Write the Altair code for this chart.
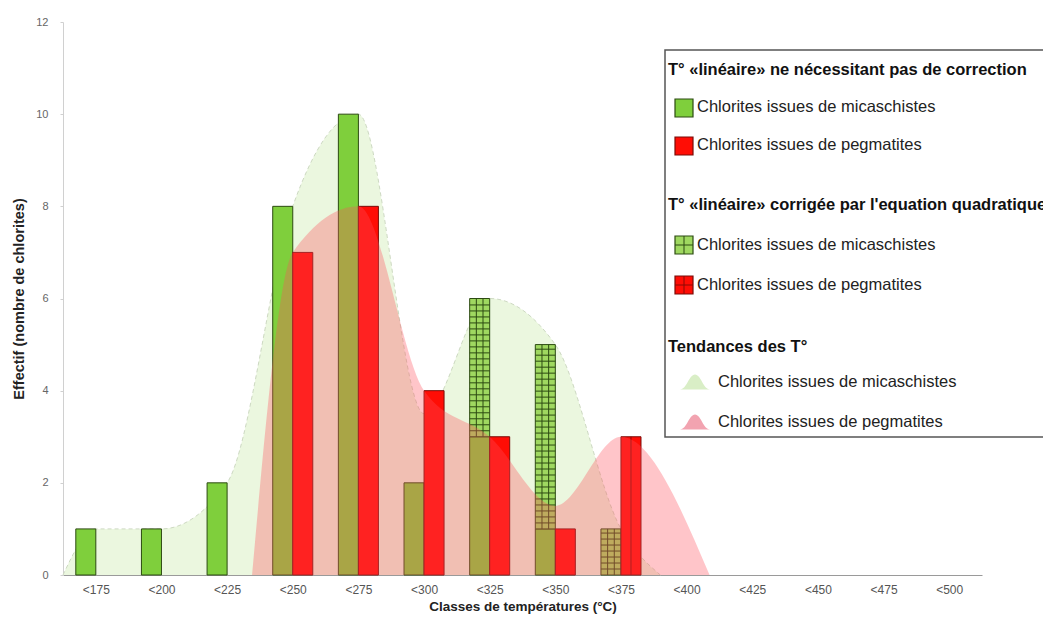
import json
import altair as alt
import pandas as pd

# ---------------- data ----------------
classes = ["<175", "<200", "<225", "<250", "<275", "<300", "<325",
           "<350", "<375", "<400", "<425", "<450", "<475", "<500"]
mica_lin = [1, 1, 2, 8, 10, 2, 3, 1, 0, 0, 0, 0, 0, 0]
mica_corr = [0, 0, 0, 0, 0, 0, 3, 4, 1, 0, 0, 0, 0, 0]
peg_lin = [0, 0, 0, 7, 8, 4, 3, 1, 0, 0, 0, 0, 0, 0]
peg_corr = [0, 0, 0, 0, 0, 0, 0, 0, 3, 0, 0, 0, 0, 0]

trend_mica_x = [-0.5, 0, 1, 2, 3, 4, 5, 6, 7, 8, 8.6]
trend_mica_y = [0, 1, 1, 2, 8, 10, 3.5, 6, 5, 1, 0]
trend_peg_x = [2.38, 3, 4, 5, 6, 7, 8, 9.35]
trend_peg_y = [0, 7, 8, 4, 3, 1.5, 3, 0]

y_ticks = [0, 2, 4, 6, 8, 10, 12]
legend_headers = ["T° «linéaire» ne nécessitant pas de correction",
                  "T° «linéaire» corrigée par l'equation quadratique",
                  "Tendances des T°"]
legend_items = ["Chlorites issues de micaschistes", "Chlorites issues de pegmatites"]

# ---------------- styling constants ----------------
FONT = "Liberation Sans"
BW = 0.305          # bar width in class units
HSTEP = 0.13        # hatch spacing (count units)
GREEN = "#7fcf3c"
GREEN_H = "#9fd860"
GREEN_S = "#2c4a12"
RED = "#ff0d05"
RED_S = "#7a0c08"
RED_H = "#8a0a06"
PINK = "#ff505a"
LGREEN = "#e9f6dc"
W, H = 919, 553

# ---------------- build tables ----------------
rows = []
for i, c in enumerate(classes):
    if mica_lin[i] > 0:
        rows.append(dict(k="ml", x=i - BW, x2=i, y=0, y2=mica_lin[i]))
    if mica_corr[i] > 0:
        rows.append(dict(k="mc", x=i - BW, x2=i, y=mica_lin[i], y2=mica_lin[i] + mica_corr[i]))
    if peg_lin[i] > 0:
        rows.append(dict(k="pl", x=i, x2=i + BW, y=0, y2=peg_lin[i]))
    if peg_corr[i] > 0:
        rows.append(dict(k="pc", x=i, x2=i + BW, y=peg_lin[i], y2=peg_lin[i] + peg_corr[i]))
bars = pd.DataFrame(rows)

hatch = []
for r in rows:
    if r["k"] == "mc":
        yy = r["y"] + HSTEP
        while yy < r["y2"] - 0.02:
            hatch.append(dict(k="g", x=r["x"], x2=r["x2"], y=yy, y2=yy))
            yy += HSTEP
        for f in (1 / 3, 2 / 3):
            xx = r["x"] + f * (r["x2"] - r["x"])
            hatch.append(dict(k="g", x=xx, x2=xx, y=r["y"], y2=r["y2"]))
    if r["k"] == "pc":
        xx = (r["x"] + r["x2"]) / 2
        hatch.append(dict(k="r", x=xx, x2=xx, y=r["y"], y2=r["y2"]))
hatch = pd.DataFrame(hatch)

tm = pd.DataFrame({"x": trend_mica_x, "y": trend_mica_y})
tp = pd.DataFrame({"x": trend_peg_x, "y": trend_peg_y})

label_expr = json.dumps(classes) + "[datum.value]"
XS = alt.Scale(domain=[-0.5, 13.5], nice=False, zero=False)
YS = alt.Scale(domain=[0, 12], nice=False)
X = alt.X("x:Q", scale=XS, title="Classes de températures (°C)",
          axis=alt.Axis(values=list(range(len(classes))), labelExpr=label_expr,
                        grid=False, ticks=False, domainColor="#9a9a9a",
                        labelColor="#555", labelFontSize=12, labelPadding=9,
                        titleFontSize=13.5, titleFontWeight="bold", titleColor="#222",
                        titlePadding=4))
Y = alt.Y("y:Q", scale=YS, title="Effectif (nombre de chlorites)",
          axis=alt.Axis(values=y_ticks, grid=False, tickSize=3, tickColor="#d0d0d0",
                        domainColor="#d0d0d0", labelColor="#666", labelFontSize=11,
                        labelPadding=12, titleFontSize=14.5, titleFontWeight="bold",
                        titleColor="#222", titlePadding=9))

area_m = alt.Chart(tm).mark_area(interpolate="monotone", color=LGREEN, opacity=0.9).encode(x=X, y=Y)
line_m = alt.Chart(tm).mark_line(interpolate="monotone", color="#cdd9c2", strokeDash=[4, 3],
                                 strokeWidth=1).encode(x=X, y=Y)

fill_scale = alt.Scale(domain=["ml", "mc", "pl", "pc"], range=[GREEN, GREEN_H, RED, RED])
stroke_scale = alt.Scale(domain=["ml", "mc", "pl", "pc"], range=[GREEN_S, GREEN_S, RED_S, RED_S])
bar_layer = alt.Chart(bars).mark_rect(strokeWidth=1).encode(
    x=X, x2="x2:Q", y=Y, y2="y2:Q",
    fill=alt.Fill("k:N", scale=fill_scale, legend=None),
    stroke=alt.Stroke("k:N", scale=stroke_scale, legend=None))
hatch_layer = alt.Chart(hatch).mark_rule(strokeWidth=1).encode(
    x=X, x2="x2:Q", y=Y, y2="y2:Q",
    color=alt.Color("k:N", scale=alt.Scale(domain=["g", "r"], range=[GREEN_S, RED_H]), legend=None))
area_p = alt.Chart(tp).mark_area(interpolate="monotone", color=PINK, opacity=0.33).encode(x=X, y=Y)

one = pd.DataFrame({"a": [0]})
V = alt.value
# cover the top and right edges of the plot area
frame_hide = [
    alt.Chart(one).mark_rule(color="white", strokeWidth=3).encode(x=V(1), x2=V(W + 2), y=V(0), y2=V(0)),
    alt.Chart(one).mark_rule(color="white", strokeWidth=3).encode(x=V(W), x2=V(W), y=V(-1), y2=V(H - 1)),
]

# ---------------- manual legend (pixel positions, no scales) ----------------
leg = []
leg.append(alt.Chart(one).mark_rect(fill="white", stroke="#555", strokeWidth=1.5).encode(
    x=V(602), x2=V(1010), y=V(28), y2=V(415)))
for t, py in zip(legend_headers, [48, 183, 325]):
    leg.append(alt.Chart(one).mark_text(align="left", baseline="middle", fontSize=16.5,
                                        fontWeight="bold", font=FONT, color="#111", text=t)
               .encode(x=V(605), y=V(py)))
for t, px, py in zip(legend_items * 3, [634, 634, 634, 634, 655, 655],
                     [85, 123, 223, 263, 360, 400]):
    leg.append(alt.Chart(one).mark_text(align="left", baseline="middle", fontSize=16.5,
                                        font=FONT, color="#222", text=t)
               .encode(x=V(px), y=V(py)))
for y0, f, s in zip([77, 115, 214, 254], [GREEN, RED, GREEN_H, RED],
                    [GREEN_S, RED_S, GREEN_S, RED_S]):
    leg.append(alt.Chart(one).mark_rect(fill=f, stroke=s, strokeWidth=1.2).encode(
        x=V(612), x2=V(630), y=V(y0), y2=V(y0 + 18)))
for x0, x1, y0, y1, c in [(612, 630, 223, 223, GREEN_S), (621, 621, 214, 232, GREEN_S),
                          (612, 630, 263, 263, RED_H), (621, 621, 254, 272, RED_H)]:
    leg.append(alt.Chart(one).mark_rule(color=c, strokeWidth=1).encode(
        x=V(x0), x2=V(x1), y=V(y0), y2=V(y1)))
mound = "M-1,0.5 C-0.55,0.5 -0.4,-0.5 0,-0.5 C0.4,-0.5 0.55,0.5 1,0.5 Z"
for py, c in zip([360, 400], ["#d9eec6", "#f2a3b0"]):
    leg.append(alt.Chart(one).mark_point(shape=mound, filled=True, size=900, opacity=1,
                                         color=c).encode(x=V(632), y=V(py)))

chart = alt.layer(area_m, line_m, bar_layer, hatch_layer, area_p, *frame_hide, *leg).properties(
    width=W, height=H, autosize=alt.AutoSizeParams(type="none"),
    padding={"left": 55, "top": 14, "right": 61, "bottom": 45}
).configure(
    font=FONT,
    view=alt.ViewConfig(stroke="transparent", strokeWidth=0, strokeOpacity=0),
    style={"cell": {"stroke": "transparent", "strokeWidth": 0, "strokeOpacity": 0}},
)

chart.save("out.html", embed_options={"renderer": "svg", "actions": False})
